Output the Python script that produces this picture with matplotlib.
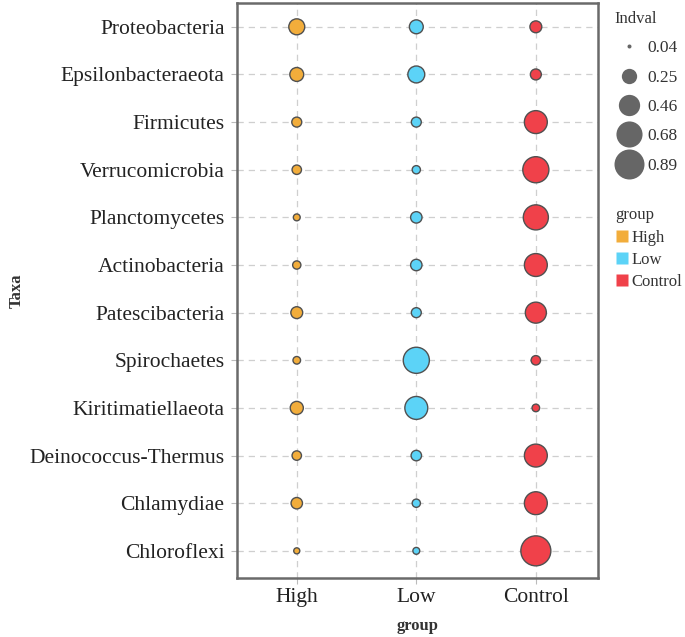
import matplotlib
matplotlib.use("Agg")
import matplotlib.pyplot as plt
from matplotlib.lines import Line2D
import numpy as np

taxa = ["Proteobacteria", "Epsilonbacteraeota", "Firmicutes", "Verrucomicrobia",
        "Planctomycetes", "Actinobacteria", "Patescibacteria", "Spirochaetes",
        "Kiritimatiellaeota", "Deinococcus-Thermus", "Chlamydiae", "Chloroflexi"]
groups = ["High", "Low", "Control"]
high = [0.27, 0.21, 0.12, 0.11, 0.07, 0.09, 0.16, 0.08, 0.19, 0.11, 0.15, 0.06]
low = [0.21, 0.30, 0.12, 0.09, 0.15, 0.15, 0.12, 0.68, 0.53, 0.13, 0.09, 0.07]
control = [0.16, 0.14, 0.53, 0.68, 0.63, 0.53, 0.45, 0.11, 0.08, 0.53, 0.53, 0.89]
size_breaks = [0.04, 0.25, 0.46, 0.68, 0.89]
colors = {"High": "#F2AD3B", "Low": "#5CD3F7", "Control": "#F0414A"}

plt.rcParams['font.family'] = ['Liberation Serif', 'DejaVu Serif']

vmin, vmax = 0.04, 0.89
dmin_px, dmax_px = 4.0, 30.0
def size_of(v):
    v = np.asarray(v, dtype=float)
    d2 = dmin_px**2 + (v - vmin) / (vmax - vmin) * (dmax_px**2 - dmin_px**2)
    return d2 * 0.72**2  # px^2 -> pt^2 at 100 dpi

fig = plt.figure(figsize=(6.85, 6.37), dpi=100)
ax = fig.add_axes([237/685, 1-578/637, (598-237)/685, (578-3)/637])

yidx = np.arange(len(taxa))
series = {"High": high, "Low": low, "Control": control}
for gi, g in enumerate(groups):
    ax.scatter(np.full(len(taxa), gi), yidx, s=size_of(series[g]), c=colors[g],
               edgecolors="#505050", linewidths=1.0, zorder=3)

ax.set_xlim(-0.5, 2.52)
ax.set_ylim(len(taxa) - 1 + 0.57, -0.5)
ax.set_xticks(range(len(groups)))
ax.set_xticklabels(groups, fontsize=15.5, color="#222222")
ax.set_yticks(yidx)
ax.set_yticklabels(taxa, fontsize=15.5, color="#222222")
ax.grid(True, linestyle=(0, (5, 4)), color="#CFCFCF", linewidth=0.9, zorder=0)
ax.tick_params(axis='both', length=4, color="#BBBBBB", width=0.8)
ax.tick_params(axis='y', pad=5)
ax.tick_params(axis='x', pad=3)
for sp in ax.spines.values():
    sp.set_color("#6A6A6A")
    sp.set_linewidth(1.8)
ax.set_xlabel("group", fontsize=12, fontweight="bold", color="#333333", labelpad=8)
ax.set_ylabel("Taxa", fontsize=12, fontweight="bold", color="#333333", labelpad=3)

size_handles = [Line2D([], [], linestyle="none", marker="o", markersize=np.sqrt(size_of(b)),
                       markerfacecolor="#666666", markeredgecolor="none") for b in size_breaks]
leg1 = fig.legend(size_handles, [f"{b:.2f}" for b in size_breaks], title="Indval",
                  loc="upper left", bbox_to_anchor=(0.881, 0.999), frameon=False,
                  fontsize=12.5, title_fontsize=12, labelspacing=0.76, handletextpad=0.25,
                  borderpad=0.1, handlelength=1.7, alignment="left")
for t in leg1.get_texts():
    t.set_color("#333333")
leg1.get_title().set_color("#333333")

grp_handles = [Line2D([], [], linestyle="none", marker="s", markersize=8,
                      markerfacecolor=colors[g], markeredgecolor="none") for g in groups]
leg2 = fig.legend(grp_handles, groups, title="group", loc="upper left",
                  bbox_to_anchor=(0.881, 0.693), frameon=False, fontsize=12,
                  title_fontsize=12, labelspacing=0.38, handletextpad=0.2,
                  borderpad=0.2, handlelength=0.8, alignment="left")
for t in leg2.get_texts():
    t.set_color("#333333")
leg2.get_title().set_color("#333333")

fig.savefig("out.png", dpi=100)
